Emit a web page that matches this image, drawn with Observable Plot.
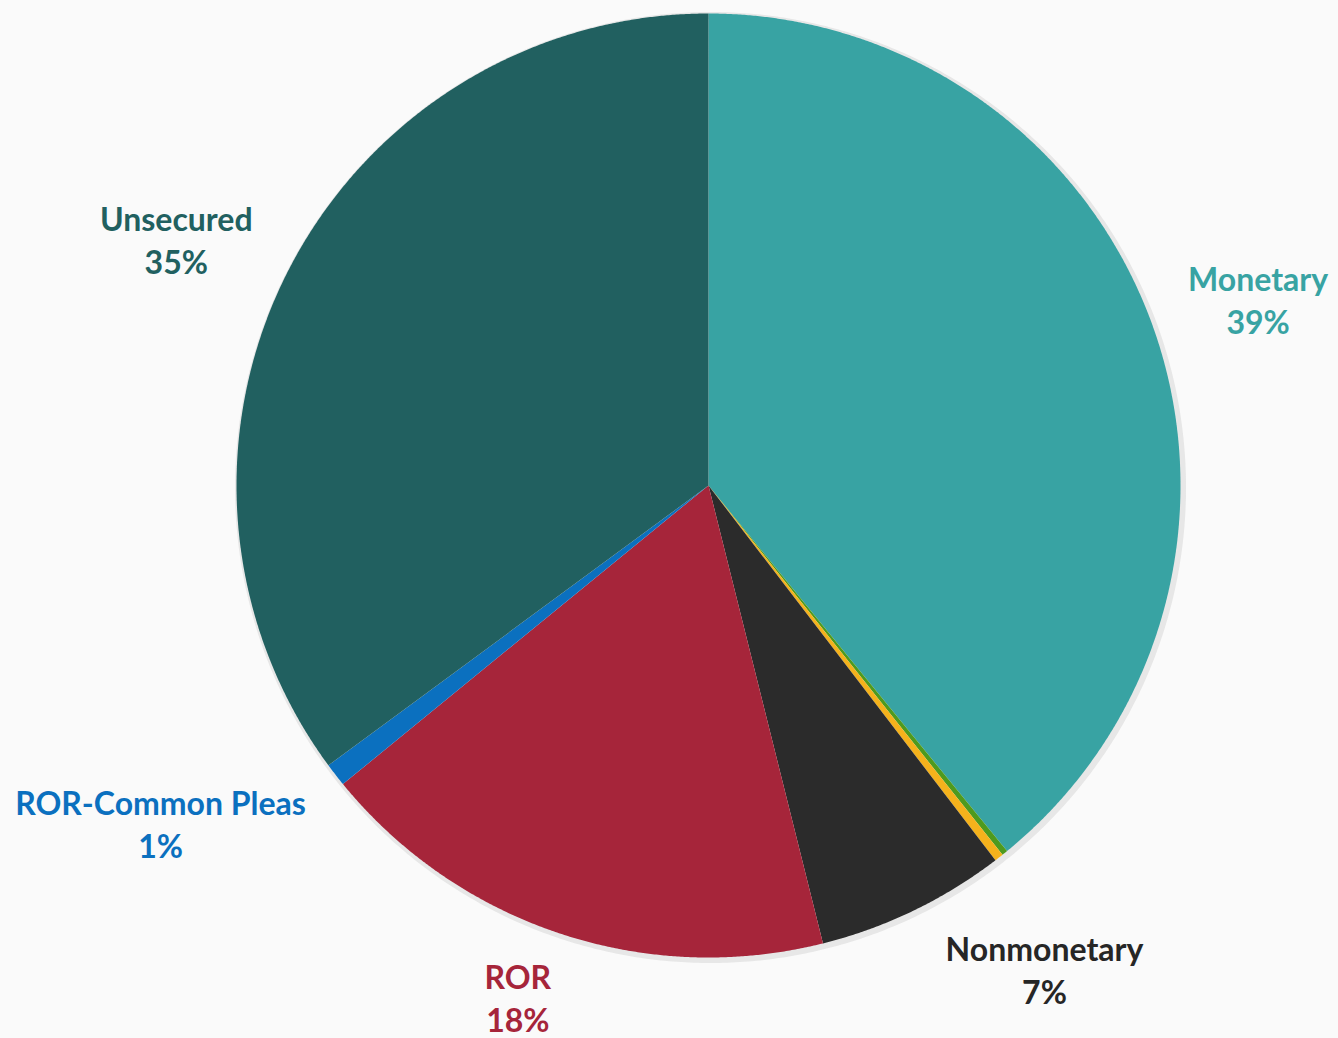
<!DOCTYPE html>
<html>
<head>
<meta charset="utf-8">
<script src="https://cdn.jsdelivr.net/npm/d3@7"></script>
<script src="https://cdn.jsdelivr.net/npm/@observablehq/plot@0.6"></script>
<style>
  html, body { margin: 0; padding: 0; background: #fafafa; }
  #chart { width: 1338px; height: 1038px; }
</style>
</head>
<body>
<div id="chart"></div>
<script>
// ---- data ----
const categories = ["Monetary", "Other A", "Other B", "Nonmonetary", "ROR", "ROR-Common Pleas", "Unsecured"];
const shares = [39.1, 0.2, 0.3, 6.5, 18.0, 0.8, 35.1];
const labelTexts = ["Monetary\n39%", null, null, "Nonmonetary\n7%", "ROR\n18%", "ROR-Common Pleas\n1%", "Unsecured\n35%"];
const sliceColors = ["#38a3a3", "#4e9a1e", "#f5b21c", "#2b2b2b", "#a6253a", "#0b70bf", "#216060"];
const labelColors = ["#38a3a3", null, null, "#262626", "#a6253a", "#0b70bf", "#216060"];

// ---- layout (pixels) ----
const W = 1338, H = 1038, CX = 708, CY = 485, R = 472;
const labelOffsets = {
  "Monetary": [105, -28],
  "Nonmonetary": [131, 58],
  "ROR": [-42, 63],
  "ROR-Common Pleas": [-175, 48],
  "Unsecured": [-111, -34]
};

const arcs = d3.pie().sort(null).value(d => d)(shares);

// polygon points in unit coordinates (y up)
const poly = [];
arcs.forEach((a, i) => {
  const key = categories[i];
  poly.push({key, x: 0, y: 0});
  const n = Math.max(2, Math.ceil((a.endAngle - a.startAngle) / 0.004));
  for (let k = 0; k <= n; k++) {
    const t = a.startAngle + (a.endAngle - a.startAngle) * k / n;
    poly.push({key, x: Math.sin(t), y: Math.cos(t)});
  }
});

const ring = d3.range(0, 721).map(k => {
  const t = k / 720 * 2 * Math.PI;
  return {x: Math.sin(t), y: Math.cos(t)};
});

const labels = [];
arcs.forEach((a, i) => {
  if (!labelTexts[i]) return;
  const m = (a.startAngle + a.endAngle) / 2;
  const off = labelOffsets[categories[i]];
  labels.push({
    key: categories[i],
    text: labelTexts[i],
    color: labelColors[i],
    x: Math.sin(m) + off[0] / R,
    y: Math.cos(m) - off[1] / R
  });
});

const chart = Plot.plot({
  width: W,
  height: H,
  margin: 0,
  x: {domain: [-CX / R, (W - CX) / R], axis: null},
  y: {domain: [-(H - CY) / R, CY / R], axis: null},
  color: {domain: categories, range: sliceColors},
  style: {background: "#fafafa", overflow: "visible"},
  marks: [
    Plot.line(ring, {x: "x", y: "y", stroke: "#c4c4c4", strokeWidth: 7, strokeOpacity: 0.35, dx: 2, dy: 2, curve: "linear-closed"}),
    Plot.line(poly, {x: "x", y: "y", z: "key", fill: "key", stroke: "none", curve: "linear-closed"}),
    Plot.text(labels, {
      x: "x", y: "y", text: "text", fill: d => d.color,
      fontFamily: "Lato", fontWeight: "bold", fontSize: 32, lineHeight: 1.34,
      textAnchor: "middle", lineAnchor: "middle"
    })
  ]
});
document.getElementById("chart").appendChild(chart);
</script>
</body>
</html>
